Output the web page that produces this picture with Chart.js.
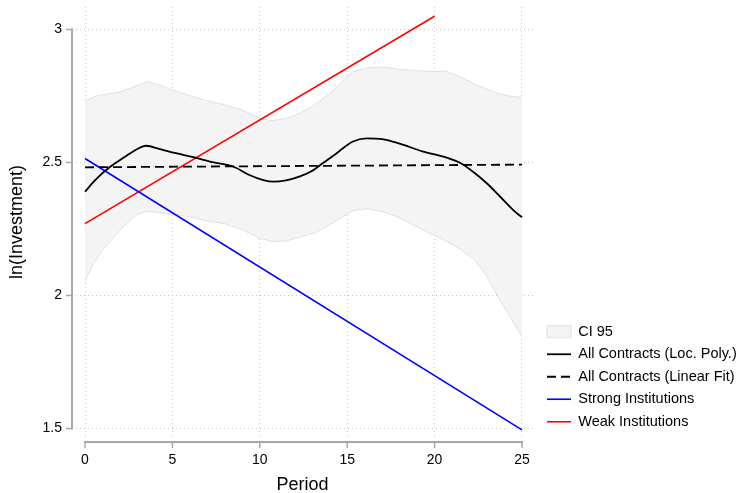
<!DOCTYPE html>
<html>
<head>
<meta charset="utf-8">
<script src="https://cdn.jsdelivr.net/npm/chart.js@4.4.1/dist/chart.umd.min.js"></script>
<style>
  html, body { margin: 0; padding: 0; background: #fff; }
  canvas { display: block; }
</style>
</head>
<body>
<canvas id="investmentChart" width="746" height="493"></canvas>
<script>
// tick positions
const periodTicks = [0, 5, 10, 15, 20, 25];
const valueTicks = [1.5, 2, 2.5, 3];

// 95% confidence band around the local polynomial
const ciPeriods = [0, 0.5, 1, 2, 3, 3.6, 4.3, 5, 6, 7, 8, 9, 10, 10.7, 11.5, 12.3, 13.2, 14.2, 15.3, 16.2, 17.2, 18, 19, 20, 20.6, 21.5, 22.3, 23, 23.7, 24.4, 25];
const ciUpper = [2.729, 2.747, 2.755, 2.765, 2.79, 2.804, 2.79, 2.773, 2.751, 2.732, 2.717, 2.697, 2.667, 2.657, 2.666, 2.685, 2.72, 2.77, 2.84, 2.857, 2.858, 2.85, 2.845, 2.841, 2.844, 2.822, 2.794, 2.775, 2.758, 2.748, 2.745];
const ciLower = [2.055, 2.121, 2.17, 2.246, 2.306, 2.317, 2.311, 2.305, 2.296, 2.28, 2.27, 2.247, 2.215, 2.203, 2.205, 2.219, 2.237, 2.274, 2.319, 2.326, 2.312, 2.292, 2.258, 2.225, 2.207, 2.173, 2.134, 2.07, 1.987, 1.91, 1.845];

// all contracts, local polynomial
const polyPeriods = [0, 0.5, 1, 1.5, 2.2, 3, 3.5, 4.3, 5.2, 6.2, 7.3, 8.5, 9.4, 10.2, 10.8, 11.5, 12.3, 12.9, 13.6, 14.4, 15.3, 16.1, 17, 18, 19.3, 20.7, 21.5, 22.2, 23, 23.7, 24.5, 25];
const polyValues = [2.39, 2.428, 2.46, 2.487, 2.518, 2.551, 2.563, 2.55, 2.535, 2.52, 2.501, 2.484, 2.453, 2.434, 2.428, 2.433, 2.448, 2.465, 2.497, 2.535, 2.578, 2.591, 2.588, 2.571, 2.542, 2.518, 2.497, 2.465, 2.421, 2.375, 2.321, 2.294];

// linear fits
const linearPeriods = [0, 25];
const linearValues = [2.482, 2.492];
const strongPeriods = [0, 25];
const strongValues = [2.515, 1.495];
const weakPeriods = [0, 20];
const weakValues = [2.27, 3.05];

const toPoints = (xs, ys) => xs.map((p, i) => ({ x: p, y: ys[i] }));

Chart.defaults.font.family = '"Liberation Sans", Arial, sans-serif';
Chart.defaults.color = '#000';

// Stata-like axis lines that only span the labelled range
const axisLines = {
  id: 'axisLines',
  afterDraw(chart) {
    const { ctx, chartArea, scales: { x, y } } = chart;
    ctx.save();
    ctx.strokeStyle = '#a8a8a8';
    ctx.lineWidth = 2;
    ctx.beginPath();
    const yTop = y.getPixelForValue(valueTicks[valueTicks.length - 1]);
    const yBot = y.getPixelForValue(valueTicks[0]);
    ctx.moveTo(chartArea.left, yTop - 1);
    ctx.lineTo(chartArea.left, yBot + 1);
    const axisY = chartArea.bottom + 5;
    ctx.moveTo(x.getPixelForValue(periodTicks[0]) - 1, axisY);
    ctx.lineTo(x.getPixelForValue(periodTicks[periodTicks.length - 1]) + 1, axisY);
    ctx.stroke();
    ctx.lineWidth = 1.5;
    ctx.beginPath();
    valueTicks.forEach(v => {
      const py = y.getPixelForValue(v);
      ctx.moveTo(chartArea.left - 6, py);
      ctx.lineTo(chartArea.left, py);
    });
    periodTicks.forEach(p => {
      const px = x.getPixelForValue(p);
      ctx.moveTo(px, axisY);
      ctx.lineTo(px, axisY + 6);
    });
    ctx.stroke();
    ctx.restore();
  }
};

new Chart(document.getElementById('investmentChart'), {
  type: 'line',
  data: {
    datasets: [
      {
        label: 'CI 95',
        data: toPoints(ciPeriods, ciUpper),
        borderColor: '#e0e0e0',
        backgroundColor: '#f4f4f4',
        borderWidth: 1,
        fill: '+1',
        pointStyle: 'rect',
        order: 1
      },
      {
        label: '',
        data: toPoints(ciPeriods, ciLower),
        borderColor: '#e0e0e0',
        backgroundColor: '#f4f4f4',
        borderWidth: 1,
        fill: false,
        order: 1
      },
      {
        label: 'All Contracts (Loc. Poly.)',
        data: toPoints(polyPeriods, polyValues),
        borderColor: '#000',
        borderWidth: 1.8,
        cubicInterpolationMode: 'monotone',
        pointStyle: 'line'
      },
      {
        label: 'All Contracts (Linear Fit)',
        data: toPoints(linearPeriods, linearValues),
        borderColor: '#000',
        borderWidth: 1.8,
        borderDash: [9, 5],
        pointStyle: 'line'
      },
      {
        label: 'Strong Institutions',
        data: toPoints(strongPeriods, strongValues),
        borderColor: '#0000ff',
        borderWidth: 1.6,
        pointStyle: 'line'
      },
      {
        label: 'Weak Institutions',
        data: toPoints(weakPeriods, weakValues),
        borderColor: '#ff0000',
        borderWidth: 1.6,
        pointStyle: 'line'
      }
    ]
  },
  options: {
    responsive: false,
    animation: false,
    devicePixelRatio: 1,
    layout: {
      padding: { top: 7, left: 0, right: 0, bottom: 0 }
    },
    elements: {
      point: { radius: 0, hoverRadius: 0 },
      line: { tension: 0 }
    },
    scales: {
      x: {
        type: 'linear',
        min: -0.744,
        max: 25.63,
        afterBuildTicks: s => { s.ticks = periodTicks.map(v => ({ value: v })); },
        afterFit: s => { s.height = 56; s.paddingLeft = 0; s.paddingRight = 0; },
        ticks: {
          font: { size: 14 },
          padding: 15,
          maxRotation: 0,
          callback: v => String(v)
        },
        grid: { color: '#c4c4c4', lineWidth: 1, drawTicks: false },
        border: { display: false, dash: [1, 3] },
        title: {
          display: true,
          text: 'Period',
          font: { size: 18, lineHeight: 1 },
          padding: { top: 0, bottom: -1 }
        }
      },
      y: {
        type: 'linear',
        min: 1.468,
        max: 3.0846,
        afterBuildTicks: s => { s.ticks = valueTicks.map(v => ({ value: v })); },
        afterFit: s => { s.width = 72; s.paddingTop = 0; s.paddingBottom = 0; },
        ticks: {
          font: { size: 14 },
          padding: 10,
          callback: v => String(v)
        },
        grid: { color: '#c4c4c4', lineWidth: 1, drawTicks: false },
        border: { display: false, dash: [1, 3] },
        title: {
          display: true,
          text: 'ln(Investment)',
          font: { size: 18, lineHeight: 1 },
          padding: { top: 8, bottom: 0 }
        }
      },
      gap: {
        type: 'linear',
        position: 'right',
        display: true,
        grid: { display: false, drawTicks: false },
        ticks: { display: false },
        border: { display: false },
        afterFit: s => { s.width = 6; s.paddingTop = 0; s.paddingBottom = 0; }
      }
    },
    plugins: {
      filler: { drawTime: 'beforeDatasetsDraw' },
      tooltip: { enabled: false },
      legend: {
        position: 'right',
        align: 'end',
        fullSize: false,
        maxWidth: 207,
        labels: {
          usePointStyle: true,
          pointStyleWidth: 24,
          boxHeight: 12,
          padding: 8,
          font: { size: 14.5 },
          generateLabels: chart => chart.data.datasets
            .map((ds, i) => ({
              text: ds.label,
              fillStyle: ds.backgroundColor || 'transparent',
              strokeStyle: ds.borderColor,
              lineWidth: ds.borderWidth,
              lineDash: ds.borderDash || [],
              pointStyle: ds.pointStyle,
              fontColor: '#000',
              hidden: false,
              datasetIndex: i
            }))
            .filter(item => item.text)
        }
      }
    }
  },
  plugins: [axisLines]
});
</script>
</body>
</html>
